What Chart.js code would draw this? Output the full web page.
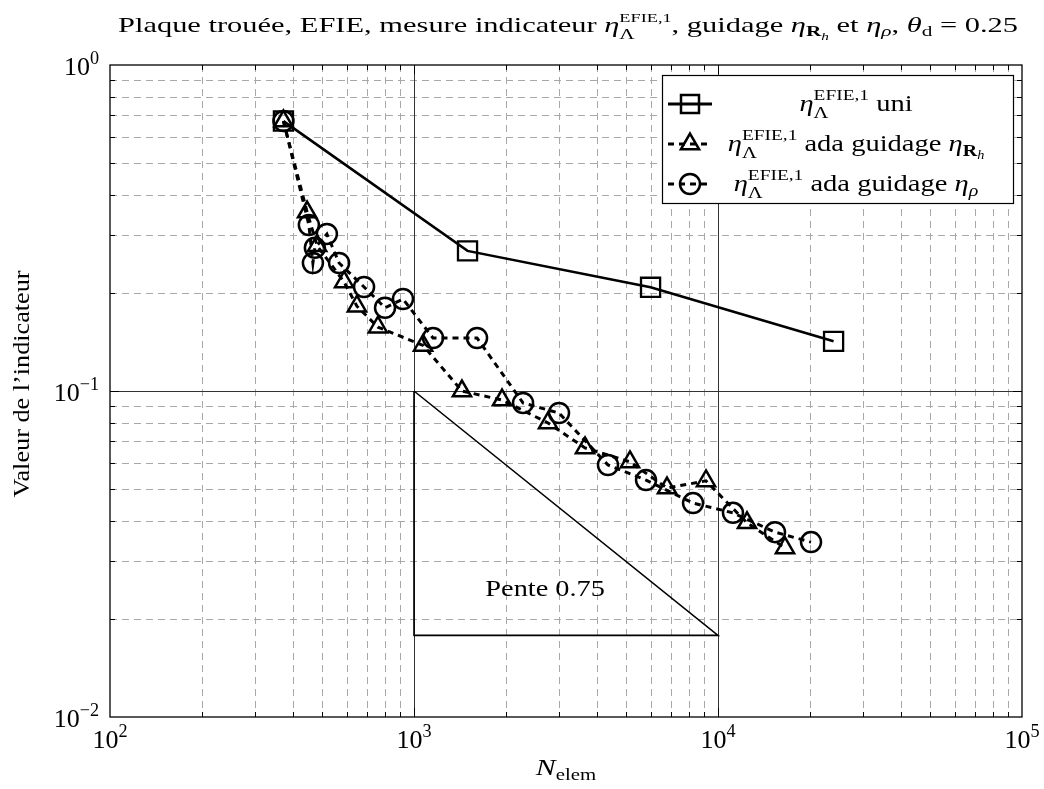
<!DOCTYPE html>
<html>
<head>
<meta charset="utf-8">
<script src="https://cdn.jsdelivr.net/npm/chart.js@4.4.1/dist/chart.umd.min.js"></script>
<style>
  html, body { margin: 0; padding: 0; background: #fff; }
  canvas { display: block; }
</style>
</head>
<body>
<canvas id="chart" width="1044" height="789"></canvas>
<script>
// axis ticks (decades) and their exponent labels
const xTicks = [100, 1000, 10000, 100000];
const xTickExp = ['2', '3', '4', '5'];
const yTicks = [1, 0.1, 0.01];
const yTickExp = ['0', '\u22121', '\u22122'];

// uniform refinement
const uniN = [372, 1500, 6000, 24000];
const uniEta = [0.673, 0.269, 0.208, 0.142];

// adaptive, guided by eta_Rh
const rhN = [372, 445, 480, 589, 649, 761, 1071, 1438, 1948, 2760, 3652, 5134, 6796, 9131, 12460, 16610];
const rhEta = [0.673, 0.354, 0.279, 0.216, 0.182, 0.157, 0.138, 0.100, 0.0938, 0.0798, 0.0669, 0.0606, 0.0504, 0.0530, 0.0394, 0.0330];

// adaptive, guided by eta_rho
const rhoN = [372, 451, 465, 472, 517, 567, 685, 803, 920, 1155, 1612, 2284, 2999, 4346, 5798, 8277, 11200, 15400, 20230];
const rhoEta = [0.673, 0.323, 0.247, 0.275, 0.303, 0.247, 0.2085, 0.180, 0.1915, 0.1454, 0.1454, 0.0919, 0.0856, 0.0593, 0.0533, 0.0453, 0.0423, 0.0369, 0.0344];

// slope triangle
const slopeN = [1000, 1000, 10000, 1000];
const slopeEta = [0.1, 0.0178, 0.0178, 0.1];
const slopeLabel = 'Pente 0.75';
const slopeLabelAt = [2700, 0.0245];

const SERIF = '"Liberation Serif", "DejaVu Serif", serif';
const STRETCH = 1.24; // the reference text runs wide

const pts = (xs, ys) => xs.map((x, i) => ({ x, y: ys[i] }));

// ---- rich text (sub/superscripts) ----
function fontFor(p, size) {
  const s = size * (p.s || 1);
  const st = p.f === 'i' ? 'italic ' : p.f === 'b' ? 'bold ' : '';
  return st + s.toFixed(2) + 'px ' + SERIF;
}
function layoutRich(ctx, pieces, size) {
  let x = 0, stackEnd = null;
  const out = [];
  for (const p of pieces) {
    ctx.font = fontFor(p, size);
    const w = ctx.measureText(p.t).width;
    out.push({ p, x });
    if (p.stack) { stackEnd = x + w; }
    else if (stackEnd !== null) { x = Math.max(stackEnd, x + w); stackEnd = null; }
    else x += w;
  }
  return { out, width: x };
}
// sx: horizontal stretch, or fitW: stretch to that width
function drawRich(ctx, pieces, x, y, size, align, sx, fitW) {
  const L = layoutRich(ctx, pieces, size);
  let k = sx || 1;
  if (fitW) k = fitW / L.width;
  const W = L.width * k;
  let x0 = x;
  if (align === 'center') x0 = x - W / 2;
  else if (align === 'right') x0 = x - W;
  ctx.save();
  ctx.translate(x0, y);
  ctx.scale(k, 1);
  ctx.textAlign = 'left';
  ctx.textBaseline = 'alphabetic';
  for (const o of L.out) {
    ctx.font = fontFor(o.p, size);
    ctx.fillText(o.p.t, o.x, (o.p.dy || 0) * size);
  }
  ctx.restore();
  return W;
}

const etaLam = [
  { t: 'η', f: 'i' },
  { t: 'EFIE,1', s: 0.68, dy: -0.47, stack: true },
  { t: 'Λ', s: 0.72, dy: 0.3 }
];
const titlePieces = [
  { t: 'Plaque trouée, EFIE, mesure indicateur ' },
  { t: 'η', f: 'i' },
  { t: 'EFIE,1', s: 0.6, dy: -0.47, stack: true },
  { t: 'Λ', s: 0.7, dy: 0.32 },
  { t: ', guidage ' },
  { t: 'η', f: 'i' },
  { t: 'R', f: 'b', s: 0.7, dy: 0.2 },
  { t: 'h', f: 'i', s: 0.5, dy: 0.35 },
  { t: ' et ' },
  { t: 'η', f: 'i' },
  { t: 'ρ', f: 'i', s: 0.7, dy: 0.2 },
  { t: ', ' },
  { t: 'θ', f: 'i' },
  { t: 'd', s: 0.7, dy: 0.2 },
  { t: ' = 0.25' }
];
const legendRows = [
  { marker: 'rect', dash: [], pieces: [...etaLam, { t: ' uni' }] },
  { marker: 'triangle', dash: [6, 5], pieces: [...etaLam, { t: ' ada guidage ' }, { t: 'η', f: 'i' },
      { t: 'R', f: 'b', s: 0.7, dy: 0.2 }, { t: 'h', f: 'i', s: 0.5, dy: 0.35 }] },
  { marker: 'circle', dash: [6, 5], pieces: [...etaLam, { t: ' ada guidage ' }, { t: 'η', f: 'i' },
      { t: 'ρ', f: 'i', s: 0.7, dy: 0.2 }] }
];

function drawMarker(ctx, kind, x, y) {
  ctx.beginPath();
  if (kind === 'rect') {
    ctx.rect(x - 9, y - 9, 18, 18);
  } else if (kind === 'triangle') {
    const r = 10.5;
    ctx.moveTo(x, y - r);
    ctx.lineTo(x + r * Math.sin(2 * Math.PI / 3), y - r * Math.cos(2 * Math.PI / 3));
    ctx.lineTo(x + r * Math.sin(4 * Math.PI / 3), y - r * Math.cos(4 * Math.PI / 3));
    ctx.closePath();
  } else {
    ctx.arc(x, y, 10, 0, 2 * Math.PI);
  }
  ctx.stroke();
}

function hline(ctx, x1, x2, y) { ctx.beginPath(); ctx.moveTo(x1, y); ctx.lineTo(x2, y); ctx.stroke(); }
function vline(ctx, x, y1, y2) { ctx.beginPath(); ctx.moveTo(x, y1); ctx.lineTo(x, y2); ctx.stroke(); }

const gridPlugin = {
  id: 'grid',
  beforeDatasetsDraw(chart) {
    const ctx = chart.ctx;
    const { left, right, top, bottom } = chart.chartArea;
    const xs = chart.scales.x, ys = chart.scales.y;
    ctx.save();
    ctx.lineWidth = 1;
    ctx.strokeStyle = '#a8a8a8';
    ctx.setLineDash([7, 5]);
    for (let e = 2; e < 5; e++) for (let m = 2; m <= 9; m++) {
      const px = Math.round(xs.getPixelForValue(m * Math.pow(10, e))) + 0.5;
      vline(ctx, px, top, bottom);
    }
    for (let e = -2; e < 0; e++) for (let m = 2; m <= 9; m++) {
      const py = Math.round(ys.getPixelForValue(m * Math.pow(10, e))) + 0.5;
      hline(ctx, left, right, py);
    }
    ctx.setLineDash([]);
    ctx.strokeStyle = '#333';
    xTicks.slice(1, -1).forEach(v => vline(ctx, Math.round(xs.getPixelForValue(v)) + 0.5, top, bottom));
    yTicks.slice(1, -1).forEach(v => hline(ctx, left, right, Math.round(ys.getPixelForValue(v)) + 0.5));
    ctx.restore();
  },
  afterDatasetsDraw(chart) {
    const ctx = chart.ctx;
    const { left, right, top, bottom } = chart.chartArea;
    const xs = chart.scales.x, ys = chart.scales.y;
    ctx.save();
    // ticks inside on all sides
    ctx.strokeStyle = '#000';
    ctx.lineWidth = 1;
    for (let e = 2; e < 5; e++) for (let m = 1; m <= 9; m++) {
      if (m === 1 && e === 2) continue;
      const px = Math.round(xs.getPixelForValue(m * Math.pow(10, e))) + 0.5;
      const len = m === 1 ? 9 : 5;
      vline(ctx, px, bottom, bottom - len);
      vline(ctx, px, top, top + len);
    }
    for (let e = -2; e < 0; e++) for (let m = 1; m <= 9; m++) {
      if (m === 1 && e === -2) continue;
      const py = Math.round(ys.getPixelForValue(m * Math.pow(10, e))) + 0.5;
      const len = m === 1 ? 9 : 5;
      hline(ctx, left, left + len, py);
      hline(ctx, right, right - len, py);
    }
    // frame
    ctx.lineWidth = 1.3;
    ctx.strokeRect(left, top, right - left, bottom - top);

    ctx.fillStyle = '#000';
    // tick labels
    xTicks.forEach((v, i) => {
      drawRich(ctx, [{ t: '10' }, { t: xTickExp[i], s: 0.7, dy: -0.42 }], xs.getPixelForValue(v), bottom + 31, 26, 'center');
    });
    yTicks.forEach((v, i) => {
      drawRich(ctx, [{ t: '10' }, { t: yTickExp[i], s: 0.7, dy: -0.42 }], left - 11, ys.getPixelForValue(v) + 10, 26, 'right');
    });

    // slope label
    drawRich(ctx, [{ t: slopeLabel }], xs.getPixelForValue(slopeLabelAt[0]), ys.getPixelForValue(slopeLabelAt[1]) + 6, 24, 'center', 1.18);

    // axis titles
    drawRich(ctx, [{ t: 'N', f: 'i' }, { t: 'elem', s: 0.7, dy: 0.22 }], (left + right) / 2, bottom + 58, 24, 'center', STRETCH);
    ctx.save();
    ctx.translate(29, 384);
    ctx.rotate(-Math.PI / 2);
    drawRich(ctx, [{ t: 'Valeur de l\u2019indicateur' }], 0, 0, 23, 'center', 1.14);
    ctx.restore();

    // title
    drawRich(ctx, titlePieces, 568, 32, 22, 'center', 1, 900);

    // legend
    const bx = right - 360, by = top + 10, bw = 351, bh = 128;
    ctx.fillStyle = '#fff';
    ctx.fillRect(bx, by, bw, bh);
    ctx.strokeStyle = '#000';
    ctx.lineWidth = 1.2;
    ctx.strokeRect(bx + 0.5, by + 0.5, bw, bh);
    legendRows.forEach((row, i) => {
      const cy = by + 29 + i * 40;
      ctx.strokeStyle = '#000';
      ctx.lineWidth = 3;
      ctx.setLineDash(row.dash);
      hline(ctx, bx + 6, bx + 50, cy);
      ctx.setLineDash([]);
      ctx.lineWidth = 2.5;
      drawMarker(ctx, row.marker, bx + 28, cy);
      ctx.fillStyle = '#000';
      drawRich(ctx, row.pieces, bx + 194, cy + 7, 23, 'center', STRETCH);
    });
    ctx.restore();
  }
};

const seriesStyle = {
  borderColor: '#000',
  pointBorderColor: '#000',
  pointBackgroundColor: 'rgba(0,0,0,0)',
  tension: 0,
  fill: false
};

new Chart(document.getElementById('chart'), {
  type: 'line',
  data: {
    datasets: [
      Object.assign({ label: 'uni', data: pts(uniN, uniEta), borderWidth: 2.6,
        pointStyle: 'rect', pointRadius: 13.5, pointBorderWidth: 2.3 }, seriesStyle),
      Object.assign({ label: 'ada Rh', data: pts(rhN, rhEta), borderWidth: 3, borderDash: [6, 5],
        pointStyle: 'triangle', pointRadius: 10.5, pointBorderWidth: 2.5 }, seriesStyle),
      Object.assign({ label: 'ada rho', data: pts(rhoN, rhoEta), borderWidth: 3, borderDash: [6, 5],
        pointStyle: 'circle', pointRadius: 10, pointBorderWidth: 2.5 }, seriesStyle),
      Object.assign({ label: 'pente', data: pts(slopeN, slopeEta), borderWidth: 1.6,
        pointRadius: 0 }, seriesStyle)
    ]
  },
  options: {
    responsive: false,
    animation: false,
    events: [],
    layout: { padding: { left: 110, right: 22, top: 65, bottom: 72 } },
    scales: {
      x: { type: 'logarithmic', min: 100, max: 100000, display: false },
      y: { type: 'logarithmic', min: 0.01, max: 1, display: false }
    },
    plugins: { legend: { display: false }, tooltip: { enabled: false } }
  },
  plugins: [gridPlugin]
});
</script>
</body>
</html>
